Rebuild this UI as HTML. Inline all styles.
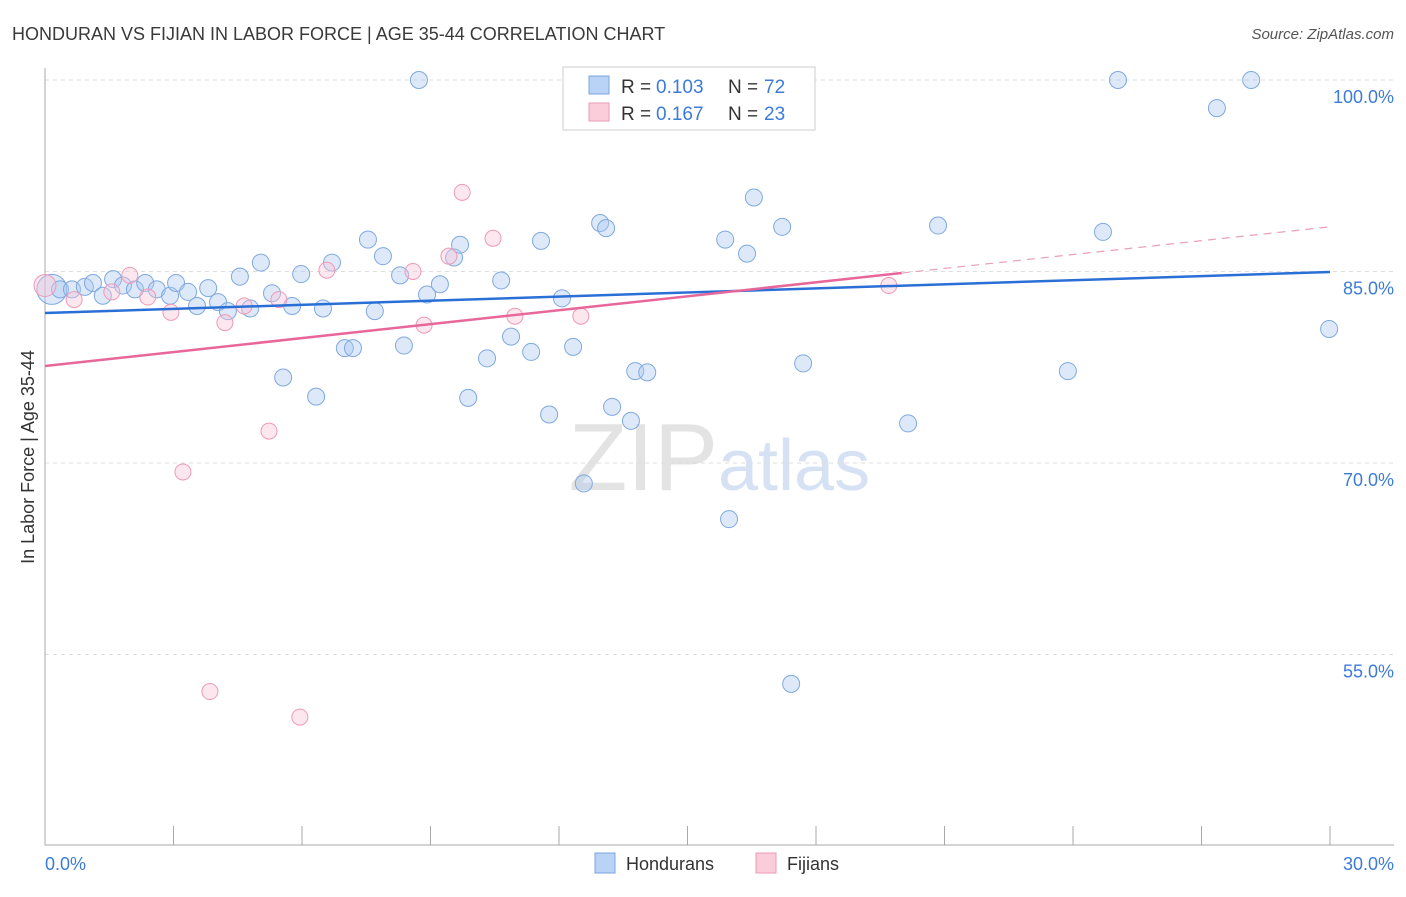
<!DOCTYPE html>
<html><head><meta charset="utf-8"><style>
body{margin:0;background:#fff;font-family:"Liberation Sans",sans-serif;}
svg text{font-family:"Liberation Sans",sans-serif;}
</style></head><body>
<svg id="chart" width="1406" height="892" viewBox="0 0 1406 892" xmlns="http://www.w3.org/2000/svg">
<text x="12" y="40" font-size="18" fill="#3a3a3a">HONDURAN VS FIJIAN IN LABOR FORCE | AGE 35-44 CORRELATION CHART</text>
<text x="1394" y="39" font-size="15" fill="#555" text-anchor="end" font-style="italic">Source: ZipAtlas.com</text>
<text x="718" y="490" font-size="96" text-anchor="end" fill="#e3e3e3" font-family="Liberation Serif">ZIP</text>
<text x="718" y="490" font-size="72" fill="#d6e2f3">atlas</text>
<g id="grid"></g>
<g id="axes"></g>
<g id="marks"></g>
<text transform="translate(34,457) rotate(-90)" font-size="18" fill="#333" text-anchor="middle">In Labor Force | Age 35-44</text>
<text x="45" y="870" font-size="18" fill="#3d7bd8">0.0%</text>
<text x="1394" y="870" font-size="18" fill="#3d7bd8" text-anchor="end">30.0%</text>
<g>
<rect x="563" y="67" width="252" height="63" fill="#fff" stroke="#ccc"/>
<rect x="589" y="76" width="20" height="18" fill="#b8d3f5" stroke="#7aa6e0"/>
<rect x="589" y="103" width="20" height="18" fill="#fbcddb" stroke="#ee9ab5"/>
<text x="621" y="93" font-size="19" fill="#333">R =</text>
<text x="656" y="93" font-size="19" fill="#3d7bd8">0.103</text>
<text x="728" y="93" font-size="19" fill="#333">N =</text>
<text x="764" y="93" font-size="19" fill="#3d7bd8">72</text>
<text x="621" y="120" font-size="19" fill="#333">R =</text>
<text x="656" y="120" font-size="19" fill="#3d7bd8">0.167</text>
<text x="728" y="120" font-size="19" fill="#333">N =</text>
<text x="764" y="120" font-size="19" fill="#3d7bd8">23</text>
</g>
<g>
<rect x="595" y="853" width="20" height="20" fill="#b8d3f5" stroke="#7aa6e0"/>
<text x="626" y="870" font-size="18" fill="#333">Hondurans</text>
<rect x="756" y="853" width="20" height="20" fill="#fbcddb" stroke="#ee9ab5"/>
<text x="787" y="870" font-size="18" fill="#333">Fijians</text>
</g>
</svg>
<script>
const yTicks=[100,85,70,55];
const yTickLabels=["100.0%","85.0%","70.0%","55.0%"];
const xTicks=[0,3,6,9,12,15,18,21,24,27,30];
const blueX=[0.16,0.35,0.63,0.93,1.12,1.35,1.59,1.82,2.1,2.34,2.61,2.92,3.06,3.34,3.55,3.81,4.04,4.27,4.55,4.79,5.04,5.3,5.56,5.77,5.98,6.33,6.49,6.7,7.0,7.19,7.54,7.7,7.89,8.29,8.38,8.73,8.92,9.22,9.55,9.69,9.88,10.32,10.65,10.88,11.35,11.58,11.77,12.07,12.33,12.58,12.96,13.1,13.24,13.68,13.78,14.06,15.88,15.97,16.39,16.55,17.21,17.42,17.7,20.15,20.85,23.88,24.7,25.05,27.36,28.16,29.98];
const blueY=[83.6,83.6,83.6,83.8,84.1,83.1,84.4,83.9,83.6,84.1,83.6,83.1,84.1,83.4,82.3,83.7,82.6,81.9,84.6,82.1,85.7,83.3,76.7,82.3,84.8,75.2,82.1,85.7,79.0,79.0,87.5,81.9,86.2,84.7,79.2,100,83.2,84.0,86.1,87.1,75.1,78.2,84.3,79.9,78.7,87.4,73.8,82.9,79.1,68.4,88.8,88.4,74.4,73.3,77.2,77.1,87.5,65.6,86.4,90.8,88.5,52.7,77.8,73.1,88.6,77.2,88.1,100,97.8,100,80.5];
const pinkX=[0,0.68,1.56,1.98,2.4,2.94,3.22,3.85,4.2,4.65,5.23,5.46,5.95,6.58,8.59,8.85,9.43,9.74,10.46,10.97,12.51,19.7];
const pinkY=[83.9,82.8,83.4,84.7,83.0,81.8,69.3,52.1,81.0,82.3,72.5,82.8,50.1,85.1,85.0,80.8,86.2,91.2,87.6,81.5,81.5,83.9];
const blueTrend=[81.75,84.96];
const pinkTrend=[77.6,84.88,88.5];
const NS="http://www.w3.org/2000/svg";
const xs=v=>45+v*42.833, ys=v=>80+(100-v)*12.767;
function mk(tag,attrs,parent){const e=document.createElementNS(NS,tag);for(const k in attrs)e.setAttribute(k,attrs[k]);parent.appendChild(e);return e;}
const grid=document.getElementById('grid'),axes=document.getElementById('axes'),marks=document.getElementById('marks');
yTicks.forEach((t,i)=>{
 const l=mk('line',{x1:45,x2:1394,y1:ys(t),y2:ys(t),stroke:'#ddd','stroke-dasharray':'4,4'},grid);
 
 
 const tx=mk('text',{x:1394,y:ys(t)+23,'font-size':18,fill:'#3d7bd8','text-anchor':'end'},grid);
 tx.textContent=yTickLabels[i];
 
 
});
const ax=mk('line',{x1:45,x2:45,y1:68,y2:845,stroke:'#aaa'},axes);


const bx=mk('line',{x1:45,x2:1394,y1:845,y2:845,stroke:'#aaa'},axes);


xTicks.forEach(t=>{
 const l=mk('line',{x1:xs(t),x2:xs(t),y1:826,y2:845,stroke:'#aaa'},axes);
 
 
});
blueX.forEach((x,i)=>{
 const c=mk('circle',{cx:xs(x),cy:ys(blueY[i]),r:i===0?15:8.5,fill:'rgba(170,200,240,0.4)',stroke:'#7fa9e0','stroke-width':1},marks);
 
 
});
pinkX.forEach((x,i)=>{
 const c=mk('circle',{cx:xs(x),cy:ys(pinkY[i]),r:i===0?11:8,fill:'rgba(250,195,215,0.4)',stroke:'#ee9ab5','stroke-width':1},marks);
 
 
});
const bt=mk('line',{x1:xs(0),y1:ys(blueTrend[0]),x2:xs(30),y2:ys(blueTrend[1]),stroke:'#2a6fd6','stroke-width':2.5},marks);


const pt=mk('line',{x1:xs(0),y1:ys(pinkTrend[0]),x2:xs(20),y2:ys(pinkTrend[1]),stroke:'#e8679a','stroke-width':2.5},marks);


const pd=mk('line',{x1:xs(20),y1:ys(pinkTrend[1]),x2:xs(30),y2:ys(pinkTrend[2]),stroke:'#e8a0bb','stroke-width':1.2,'stroke-dasharray':'8,6'},marks);


</script>
</body></html>
